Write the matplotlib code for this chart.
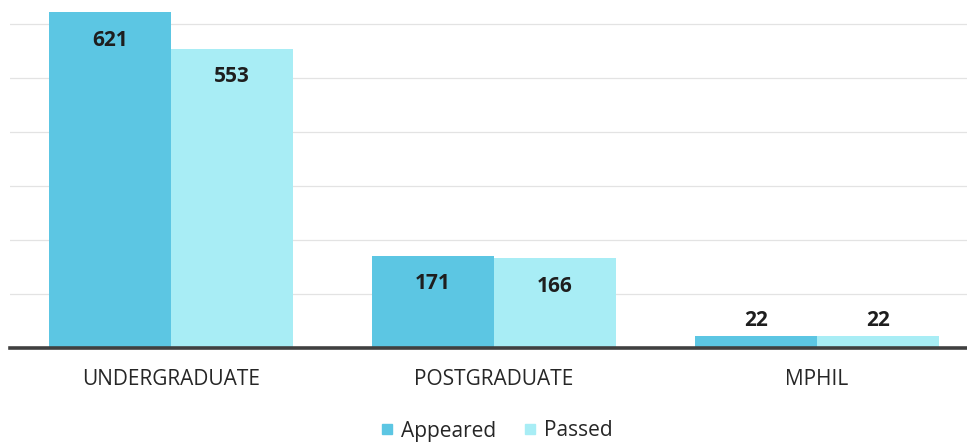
import matplotlib.pyplot as plt
from matplotlib.lines import Line2D

plt.rcParams['font.family'] = ['Open Sans', 'DejaVu Sans']

#Data
categories = ["UNDERGRADUATE", "POSTGRADUATE", "MPHIL"]
appeared = [621, 171, 22]
passed = [553, 166, 22]

c_appeared = '#5CC6E3'
c_passed = '#A8EDF5'
text_dark = '#262626'

fig = plt.figure(figsize=(9.67, 4.43), dpi=100)
ax = fig.add_axes([9.5 / 967, 95 / 443, 969 / 967, 348 / 443])

x = list(range(len(categories)))
w = 0.378
bars_a = ax.bar([i - w / 2 for i in x], appeared, width=w, color=c_appeared, zorder=2)
bars_p = ax.bar([i + w / 2 for i in x], passed, width=w, color=c_passed, zorder=2)

#Value labels: inside the top for tall bars, above for the tiny ones
for bars in (bars_a, bars_p):
    for b in bars:
        h = b.get_height()
        if h > 100:
            off = -20
        else:
            off = 11
        ax.annotate(str(int(h)), (b.get_x() + b.get_width() / 2, h),
                    xytext=(0, off), textcoords='offset points',
                    ha='center', va='center', fontsize=15, fontweight='bold',
                    color='#1E1E1E', zorder=3)

ax.set_xlim(-0.5, 2.5)
ax.set_ylim(0, 644)
ax.set_yticks([100, 200, 300, 400, 500, 600])
ax.yaxis.grid(True, color='#E3E3E3', lw=0.9, zorder=0)
ax.tick_params(axis='y', left=False, labelleft=False)
ax.set_xticks(x)
ax.set_xticklabels(categories, fontsize=15, color=text_dark)
ax.tick_params(axis='x', length=0, pad=15)
for s in ax.spines.values():
    s.set_visible(False)
ax.axhline(0, color='#404040', lw=2.6, zorder=4, clip_on=False)

handles = [Line2D([], [], marker='s', ls='', ms=6.5, color=c_appeared),
           Line2D([], [], marker='s', ls='', ms=6.5, color=c_passed)]
fig.legend(handles, ["Appeared", "Passed"], loc='center', bbox_to_anchor=(497 / 967, 1 - 431 / 443),
           ncol=2, frameon=False, fontsize=15, handlelength=0.5, handletextpad=0.4,
           columnspacing=1.4, labelcolor=text_dark)

fig.savefig('out.png', dpi=100)
